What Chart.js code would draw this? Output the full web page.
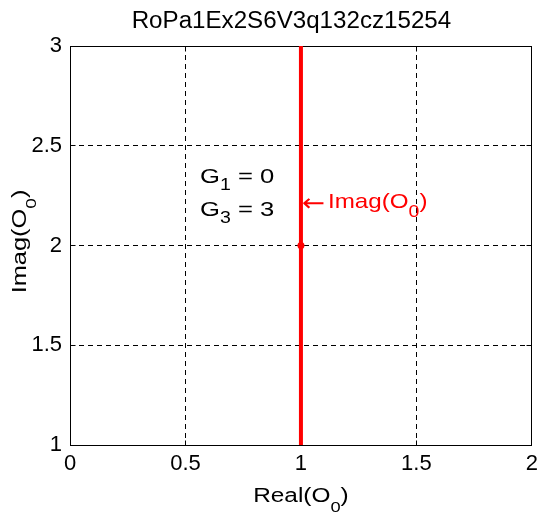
<!DOCTYPE html>
<html><head><meta charset="utf-8">
<script src="https://cdn.jsdelivr.net/npm/chart.js@4/dist/chart.umd.min.js"></script>
<style>html,body{margin:0;padding:0;background:#fff;}</style>
</head><body>
<canvas id="c" width="544" height="513"></canvas>
<script>
const chartTitle = 'RoPa1Ex2S6V3q132cz15254';
const xRange = [0, 2];
const yRange = [1, 3];
const tickStep = 0.5;
const lineX = [1, 1];
const lineY = [1, 3];
const markerX = [1];
const markerY = [2];
const xLabelParts = [['Real(O', false], ['0', true], [')', false]];
const yLabelParts = [['Imag(O', false], ['0', true], [')', false]];
const noteG1 = [['G', false], ['1', true], [' = 0', false]];
const noteG3 = [['G', false], ['3', true], [' = 3', false]];
const noteArrow = '\u2190';
const noteImag = [['Imag(O', false], ['0', true], [')', false]];

const FAM = '"Liberation Sans", Arial, Helvetica, sans-serif';

function drawRich(ctx, parts, x, y, align, color, st) {
  const mainF = st.main + 'px ' + FAM, subF = st.sub + 'px ' + FAM;
  let w = 0;
  const ws = parts.map(p => { ctx.font = p[1] ? subF : mainF; const m = ctx.measureText(p[0]).width; w += m; return m; });
  ctx.save();
  ctx.translate(x, y);
  ctx.scale(st.sx, 1);
  let cx = align === 'center' ? -w / 2 : 0;
  ctx.fillStyle = color;
  ctx.textAlign = 'left';
  ctx.textBaseline = 'alphabetic';
  parts.forEach((p, i) => {
    ctx.font = p[1] ? subF : mainF;
    ctx.fillText(p[0], cx, p[1] ? st.off : 0);
    cx += ws[i];
  });
  ctx.restore();
}

const edge = v => Math.round(v - 0.5) + 0.5;

const decor = {
  id: 'decor',
  beforeDatasetsDraw(chart) {
    const ctx = chart.ctx, a = chart.chartArea;
    const xs = chart.scales.x, ys = chart.scales.y;
    const L = edge(a.left), R = edge(a.right), T = edge(a.top), B = edge(a.bottom);
    ctx.save();
    ctx.strokeStyle = '#000';
    ctx.lineWidth = 1;
    ctx.setLineDash([]);
    ctx.strokeRect(L, T, R - L, B - T);
    const TL = 5;
    ctx.beginPath();
    xs.ticks.forEach(t => {
      const px = edge(xs.getPixelForValue(t.value));
      ctx.moveTo(px, B); ctx.lineTo(px, B - TL);
      ctx.moveTo(px, T); ctx.lineTo(px, T + TL);
    });
    ys.ticks.forEach(t => {
      const py = edge(ys.getPixelForValue(t.value));
      ctx.moveTo(L, py); ctx.lineTo(L + TL, py);
      ctx.moveTo(R, py); ctx.lineTo(R - TL, py);
    });
    ctx.stroke();
    ctx.restore();
  },
  afterDraw(chart) {
    const ctx = chart.ctx, a = chart.chartArea;
    const cxp = (a.left + a.right) / 2;
    ctx.save();
    drawRich(ctx, [[chartTitle, false]], cxp - 9.5, 28, 'center', '#000', { main: 23, sub: 15, off: 0, sx: 1.05 });
    drawRich(ctx, xLabelParts, cxp, 502, 'center', '#000', { main: 20, sub: 15, off: 10, sx: 1.22 });
    ctx.save();
    ctx.translate(26, 241.5);
    ctx.rotate(-Math.PI / 2);
    drawRich(ctx, yLabelParts, 0, 0, 'center', '#000', { main: 20, sub: 15, off: 10, sx: 1.27 });
    ctx.restore();
    drawRich(ctx, noteG1, 200, 183, 'left', '#000', { main: 21, sub: 16, off: 7, sx: 1.22 });
    drawRich(ctx, noteG3, 200, 216, 'left', '#000', { main: 21, sub: 16, off: 7, sx: 1.22 });
    ctx.save();
    ctx.translate(302, 211);
    ctx.scale(1.15, 1);
    ctx.font = '24px "DejaVu Sans", sans-serif';
    ctx.fillStyle = '#ff0000';
    ctx.textAlign = 'left';
    ctx.textBaseline = 'alphabetic';
    ctx.fillText(noteArrow, 0, 0);
    ctx.restore();
    drawRich(ctx, noteImag, 328, 208, 'left', '#ff0000', { main: 21, sub: 17, off: 9, sx: 1.15 });
    ctx.restore();
  }
};

new Chart(document.getElementById('c'), {
  type: 'scatter',
  data: {
    datasets: [
      {
        data: lineX.map((x, i) => ({ x: x, y: lineY[i] })),
        showLine: true,
        borderColor: '#ff0000',
        backgroundColor: '#ff0000',
        borderWidth: 4,
        pointRadius: 0,
        clip: 4
      },
      {
        data: markerX.map((x, i) => ({ x: x, y: markerY[i] })),
        showLine: false,
        borderColor: '#ff0000',
        backgroundColor: '#ff0000',
        pointRadius: 3.5,
        pointBorderWidth: 0
      }
    ]
  },
  options: {
    responsive: false,
    devicePixelRatio: 1,
    animation: false,
    layout: { padding: { left: 0, right: 10, top: 46, bottom: 0 } },
    plugins: { legend: { display: false }, tooltip: { enabled: false }, title: { display: false } },
    scales: {
      x: {
        type: 'linear', min: xRange[0], max: xRange[1],
        ticks: { stepSize: tickStep, color: '#000', font: { family: FAM, size: 22 }, padding: 6, maxRotation: 0, callback: v => String(v) },
        grid: { color: '#000', lineWidth: 1, drawTicks: false },
        border: { display: false, dash: [5, 4] },
        afterFit: s => { s.height = 68; }
      },
      y: {
        type: 'linear', min: yRange[0], max: yRange[1],
        ticks: { stepSize: tickStep, color: '#000', font: { family: FAM, size: 22 }, padding: 8, callback: v => String(v) },
        grid: { color: '#000', lineWidth: 1, drawTicks: false },
        border: { display: false, dash: [5, 4] },
        afterFit: s => { s.width = 70; }
      }
    }
  },
  plugins: [decor]
});
</script>
</body></html>
